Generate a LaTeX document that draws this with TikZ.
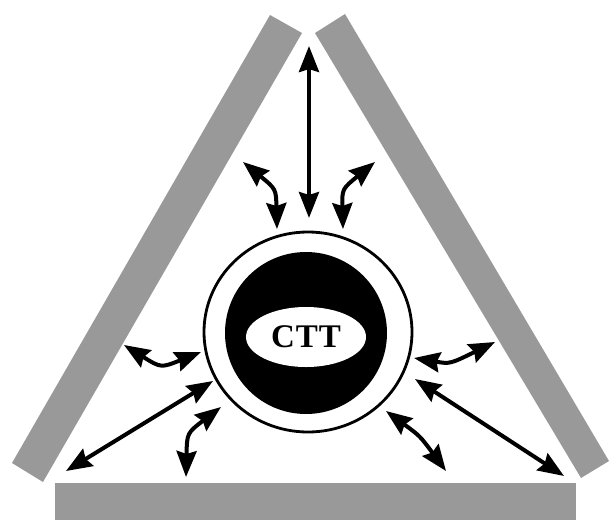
\documentclass[tikz,border=0pt]{standalone}
\usepackage{fontspec}
\setmainfont{Liberation Serif}
\usetikzlibrary{arrows.meta,shapes.geometric}
\definecolor{bargray}{RGB}{153,153,153}
\begin{document}
\begin{tikzpicture}[x=1pt,y=-1pt,
  bar/.style={fill=bargray,draw=none},
  arr/.style={line width=4pt,{Stealth[length=26pt,width=20pt,inset=3pt]}-{Stealth[length=26pt,width=20pt,inset=3pt]}},
  ring/.style={ellipse,draw=black,line width=2.8pt,fill=white,inner sep=0pt},
  disc/.style={ellipse,fill=black,inner sep=0pt},
  core/.style={ellipse,fill=white,inner sep=0pt,font=\bfseries\fontsize{33}{36}\selectfont}
]
\useasboundingbox (0,0) rectangle (610,520);
% bars
\fill[bar] (270,15) -- (302,33) -- (43,482) -- (12,463) -- cycle;
\fill[bar] (345,14) -- (315,33) -- (581,478) -- (609,461) -- cycle;
\fill[bar] (55,483) rectangle (576,520);
% centre
\node[ring, minimum width=208pt, minimum height=200pt] (ringn) at (308,332) {};
\node[disc, minimum width=162pt, minimum height=162pt] (discn) at (306,333) {};
\node[core, minimum width=120pt, minimum height=60pt] (coren) at (306,337) {C\kern1pt T\kern1pt T};
% arrow end points
\coordinate (a1s) at (309,46);  \coordinate (a1e) at (309,218);
\coordinate (a2s) at (243,162); \coordinate (a2c) at (276,189); \coordinate (a2e) at (277,229);
\coordinate (a3s) at (375,162); \coordinate (a3c) at (342,189); \coordinate (a3e) at (343,229);
\coordinate (a4s) at (124,345); \coordinate (a4c) at (161,368); \coordinate (a4e) at (201,352);
\coordinate (a5s) at (213,381); \coordinate (a5e) at (66,471);
\coordinate (a6s) at (221,407); \coordinate (a6c) at (187,433); \coordinate (a6e) at (186,477);
\coordinate (a7s) at (414,358); \coordinate (a7c) at (450,364); \coordinate (a7e) at (495,342);
\coordinate (a8s) at (415,379); \coordinate (a8e) at (564,476);
\coordinate (a9s) at (386,411); \coordinate (a9c) at (420,436); \coordinate (a9e) at (446,471);
% arrows
\draw[arr] (a1s) -- (a1e);
\draw[arr] (a2s) .. controls (a2c) .. (a2e);
\draw[arr] (a3s) .. controls (a3c) .. (a3e);
\draw[arr] (a4s) .. controls (a4c) .. (a4e);
\draw[arr] (a5s) -- (a5e);
\draw[arr] (a6s) .. controls (a6c) .. (a6e);
\draw[arr] (a7s) .. controls (a7c) .. (a7e);
\draw[arr] (a8s) -- (a8e);
\draw[arr] (a9s) .. controls (a9c) .. (a9e);
\end{tikzpicture}
\end{document}
